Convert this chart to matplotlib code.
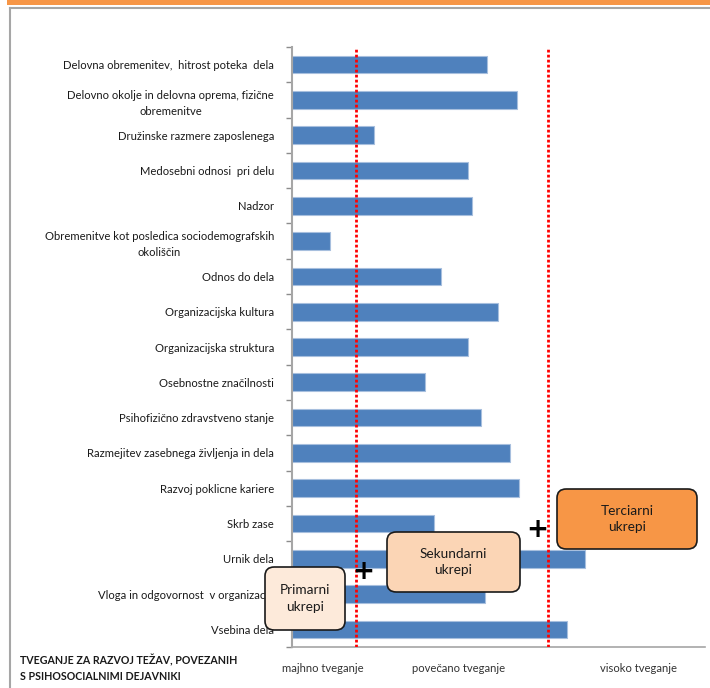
import matplotlib
matplotlib.use("Agg")
import matplotlib.pyplot as plt
from matplotlib.patches import FancyBboxPatch, Rectangle
from matplotlib.lines import Line2D

plt.rcParams['font.family'] = ['Lato', 'DejaVu Sans']

categories = [
    "Delovna obremenitev,  hitrost poteka  dela",
    "Delovno okolje in delovna oprema, fizične\nobremenitve",
    "Družinske razmere zaposlenega",
    "Medosebni odnosi  pri delu",
    "Nadzor",
    "Obremenitve kot posledica sociodemografskih\nokoliščin",
    "Odnos do dela",
    "Organizacijska kultura",
    "Organizacijska struktura",
    "Osebnostne značilnosti",
    "Psihofizično zdravstveno stanje",
    "Razmejitev zasebnega življenja in dela",
    "Razvoj poklicne kariere",
    "Skrb zase",
    "Urnik dela",
    "Vloga in odgovornost  v organizaciji",
    "Vsebina dela",
]
values = [47.2, 54.5, 19.8, 42.7, 43.7, 9.1, 36.1, 49.9, 42.6, 32.3,
          45.7, 52.8, 55.0, 34.4, 70.9, 46.7, 66.7]
thresholds = [15.6, 61.9]
zone_labels = ["majhno tveganje", "povečano tveganje", "visoko tveganje"]
measure_labels = ["Primarni\nukrepi", "Sekundarni\nukrepi", "Terciarni\nukrepi"]
title_text = "TVEGANJE ZA RAZVOJ TEŽAV, POVEZANIH\nS PSIHOSOCIALNIMI DEJAVNIKI"

W, H = 710, 688
fig = plt.figure(figsize=(W / 100, H / 100), dpi=100)


def fx(x):
    return x / W


def fy(y):
    return 1 - y / H


# decorations: orange top band and grey frame
fig.add_artist(Rectangle((fx(7), fy(5)), 1 - fx(7), 5 / H, transform=fig.transFigure,
                         facecolor="#F79646", edgecolor="none", zorder=0))
fig.add_artist(Line2D([fx(9.5), fx(9.5)], [fy(8), 0], transform=fig.transFigure,
                      color="#A6A6A6", lw=1.5, zorder=0))
fig.add_artist(Line2D([fx(9.5), 1], [fy(8), fy(8)], transform=fig.transFigure,
                      color="#A6A6A6", lw=1.5, zorder=0))

ax = fig.add_axes([fx(292), fy(647), fx(705) - fx(292), (647 - 47) / H])
n = len(categories)
ypos = list(range(n))
ax.barh(ypos, values, height=0.5, color="#4F81BD", edgecolor="#A7BFDE", linewidth=0.8, zorder=2)
ax.set_xlim(0, 100)
ax.set_ylim(n - 0.5, -0.5)

for t in thresholds:
    ax.axvline(t, color="#FF0000", linestyle=(0, (1, 0.8)), linewidth=2.0, zorder=3)

ax.set_yticks([i - 0.5 for i in range(n + 1)])
ax.set_yticklabels([])
ax.tick_params(axis="y", which="major", length=4, width=1, color="#8C8C8C", direction="out")
ax.set_yticks(ypos, minor=True)
ax.set_yticklabels(categories, minor=True, fontsize=8.1, color="#1A1A1A",
                   multialignment="center", linespacing=1.55)
ax.tick_params(axis="y", which="minor", length=0, pad=13)
ax.set_xticks([])
for s in ["top", "right"]:
    ax.spines[s].set_visible(False)
ax.spines["left"].set_color("#A6A6A6")
ax.spines["left"].set_linewidth(1.5)
ax.spines["bottom"].set_color("#A6A6A6")
ax.spines["bottom"].set_linewidth(1.2)

# zone labels below axis
zone_x = [323, 459, 638]
for x, lab in zip(zone_x, zone_labels):
    fig.text(fx(x), fy(669), lab, ha="center", va="center", fontsize=8.1, color="#333333")

# bottom-left title
fig.text(fx(20), fy(668), title_text, ha="left", va="center", fontsize=7.7,
         fontweight="bold", color="#1A1A1A", linespacing=1.45)

# measure boxes
boxes = [
    (265, 567, 345, 630, "#FDEADA"),
    (387, 532, 520, 592, "#FBD5B5"),
    (557, 489, 697, 549, "#F79646"),
]
for (x0, y0, x1, y1, fc), lab in zip(boxes, measure_labels):
    p = FancyBboxPatch((fx(x0), fy(y1)), fx(x1) - fx(x0), (y1 - y0) / H,
                       boxstyle="round,pad=0,rounding_size=0.013",
                       transform=fig.transFigure, facecolor=fc, edgecolor="#1A1A1A",
                       linewidth=1.2, zorder=5)
    fig.add_artist(p)
    fig.text(fx((x0 + x1) / 2), fy((y0 + y1) / 2), lab, ha="center", va="center",
             fontsize=9.8, color="#1A1A1A", linespacing=1.45, zorder=6)

for (x, y) in [(363, 572), (537, 530)]:
    fig.text(fx(x), fy(y), "+", ha="center", va="center", fontsize=19,
             fontweight="bold", color="black", family="DejaVu Sans", zorder=6)

fig.savefig("out.png", dpi=100)
